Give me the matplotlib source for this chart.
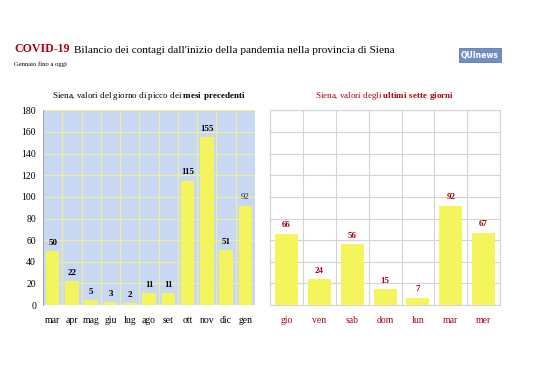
import matplotlib.pyplot as plt

plt.rcParams['font.family'] = ['Liberation Serif', 'DejaVu Serif']
plt.rcParams['mathtext.fontset'] = 'custom'
plt.rcParams['mathtext.rm'] = 'Liberation Serif'
plt.rcParams['mathtext.bf'] = 'Liberation Serif:bold'

mesi = ['mar', 'apr', 'mag', 'giu', 'lug', 'ago', 'set', 'ott', 'nov', 'dic', 'gen']
picchi = [50, 22, 5, 3, 2, 11, 11, 115, 155, 51, 92]

giorni = ['gio', 'ven', 'sab', 'dom', 'lun', 'mar', 'mer']
ultimi = [66, 24, 56, 15, 7, 92, 67]

yticks = list(range(0, 181, 20))
bar_color = '#f4f45c'
red = '#b00010'

fig = plt.figure(figsize=(5.38, 3.8), dpi=100)

# pannello sinistro
ax1 = fig.add_axes([0.080, 0.197, 0.394, 0.513])
ax1.set_facecolor('#c8d8f2')
x1 = range(len(mesi))
ax1.bar(x1, picchi, width=0.7, color=bar_color, zorder=3)
ax1.set_xlim(-0.5, len(mesi) - 0.5)
ax1.set_ylim(0, 180)
ax1.set_yticks(yticks)
ax1.set_xticks(list(x1))
ax1.set_xticklabels(mesi)
ax1.set_xticks([i + 0.5 for i in range(len(mesi) - 1)], minor=True)
ax1.grid(axis='y', color='#eeee9a', lw=0.8, zorder=0)
ax1.grid(axis='x', which='minor', color='#eeee9a', lw=0.8, zorder=0)
ax1.tick_params(axis='both', which='both', length=0, labelsize=7)
ax1.tick_params(axis='x', pad=8)
ax1.tick_params(axis='y', pad=5)
for s in ['top', 'right', 'bottom']:
    ax1.spines[s].set_visible(False)
ax1.spines['left'].set_color('#999999')
ax1.spines['left'].set_linewidth(0.6)
for i, v in enumerate(picchi):
    bold = 'normal' if i == len(picchi) - 1 else 'bold'
    ax1.annotate(str(v), (i, v), xytext=(0, 3), textcoords='offset points',
                 ha='center', va='bottom', fontsize=6.5, fontweight=bold,
                 color='#333333' if bold == 'normal' else 'black')
ax1.set_title('Siena, valori del giorno di picco dei $\\mathbf{mesi\\ precedenti}$',
              fontsize=6.5, pad=9)

# titolo
t1 = fig.text(0.026, 0.862, 'COVID-19', fontsize=8.6, fontweight='bold', color=red)
ax1.annotate("Bilancio dei contagi dall'inizio della pandemia nella provincia di Siena",
             xy=(1, 0), xycoords=t1, xytext=(3, 0), textcoords='offset points',
             fontsize=8.1, color='black', va='bottom', ha='left', annotation_clip=False)
fig.text(0.026, 0.826, 'Gennaio fino a oggi', fontsize=4.8, color='black')
fig.text(0.857, 0.848, 'QUInews', fontsize=5.5, fontweight='bold', color='white',
         family='DejaVu Sans',
         bbox=dict(boxstyle='square,pad=0.3', fc='#7090c4', ec='#4a6aa0', lw=0.5))

# pannello destro
ax2 = fig.add_axes([0.502, 0.197, 0.4275, 0.513])
x2 = range(len(giorni))
ax2.bar(x2, ultimi, width=0.7, color=bar_color, zorder=3)
ax2.set_xlim(-0.5, len(giorni) - 0.5)
ax2.set_ylim(0, 180)
ax2.set_yticks(yticks)
ax2.set_yticklabels([])
ax2.set_xticks(list(x2))
ax2.set_xticklabels(giorni, color=red)
ax2.set_xticks([i + 0.5 for i in range(len(giorni) - 1)], minor=True)
ax2.grid(axis='y', color='#d4d4d4', lw=0.8, zorder=0)
ax2.grid(axis='x', which='minor', color='#d4d4d4', lw=0.8, zorder=0)
ax2.tick_params(axis='both', which='both', length=0, labelsize=7)
ax2.tick_params(axis='x', pad=8)
for s in ['top', 'right', 'bottom', 'left']:
    ax2.spines[s].set_color('#d4d4d4')
    ax2.spines[s].set_linewidth(0.8)
for i, v in enumerate(ultimi):
    ax2.annotate(str(v), (i, v), xytext=(0, 3), textcoords='offset points',
                 ha='center', va='bottom', fontsize=6.5, fontweight='bold', color=red)
ax2.set_title('Siena, valori degli $\\mathbf{ultimi\\ sette\\ giorni}$',
              fontsize=6.5, pad=9, color=red)

fig.savefig('out.png', dpi=100)
